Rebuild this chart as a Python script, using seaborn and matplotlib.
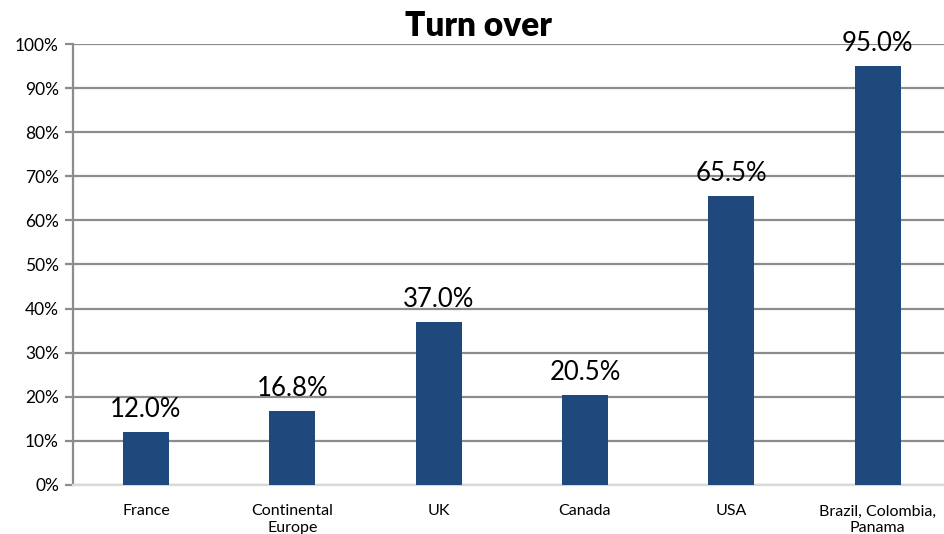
import matplotlib
matplotlib.use("Agg")
import matplotlib.pyplot as plt
import seaborn as sns
import pandas as pd
from matplotlib.ticker import PercentFormatter

regions = ["France", "Continental\nEurope", "UK", "Canada", "USA",
           "Brazil, Colombia,\nPanama"]
turnover = [12.0, 16.8, 37.0, 20.5, 65.5, 95.0]
y_ticks = list(range(0, 101, 10))

BAR_COLOR = "#1F497D"
GRID_COLOR = "#8C8C8C"

sns.set_theme(style="white")
plt.rcParams["font.family"] = ["Lato", "DejaVu Sans"]
plt.rcParams["text.color"] = "black"
plt.rcParams["xtick.color"] = "black"
plt.rcParams["ytick.color"] = "black"

df = pd.DataFrame({"region": regions, "turnover": turnover})

fig = plt.figure(figsize=(9.44, 5.34), dpi=100)
# the plot area runs slightly past the right edge of the figure
ax = fig.add_axes([0.0772, 0.0918, 0.930, 0.8258])

sns.barplot(data=df, x="region", y="turnover", color=BAR_COLOR,
            width=0.315, saturation=1, linewidth=0, ax=ax, zorder=3)

ax.set_ylim(0, 100)
ax.set_xlim(-0.5, len(regions) - 0.5)
ax.set_yticks(y_ticks)
ax.yaxis.set_major_formatter(PercentFormatter(decimals=0))
ax.yaxis.grid(True, color=GRID_COLOR, linewidth=1.6, zorder=0)
ax.set_axisbelow(True)

for side in ["top", "right"]:
    ax.spines[side].set_visible(False)
ax.spines["left"].set_color(GRID_COLOR)
ax.spines["left"].set_linewidth(1.6)
ax.spines["bottom"].set_color("#D9D9D9")
ax.spines["bottom"].set_linewidth(1.6)

ax.tick_params(axis="y", left=True, length=6, width=1.6, color=GRID_COLOR,
               labelsize=12.5, pad=4, labelcolor="black")
ax.tick_params(axis="x", bottom=False, labelsize=11.5, pad=8,
               labelcolor="black")

for c in ax.containers:
    ax.bar_label(c, labels=[f"{v:.1f}%" for v in turnover], padding=7,
                 fontsize=18.5, color="black")

ax.set_xlabel("")
ax.set_ylabel("")
fig.suptitle("Turn over", x=0.507, y=0.982, fontsize=24, fontweight="heavy",
             color="black")

fig.savefig("out.png", dpi=100)
